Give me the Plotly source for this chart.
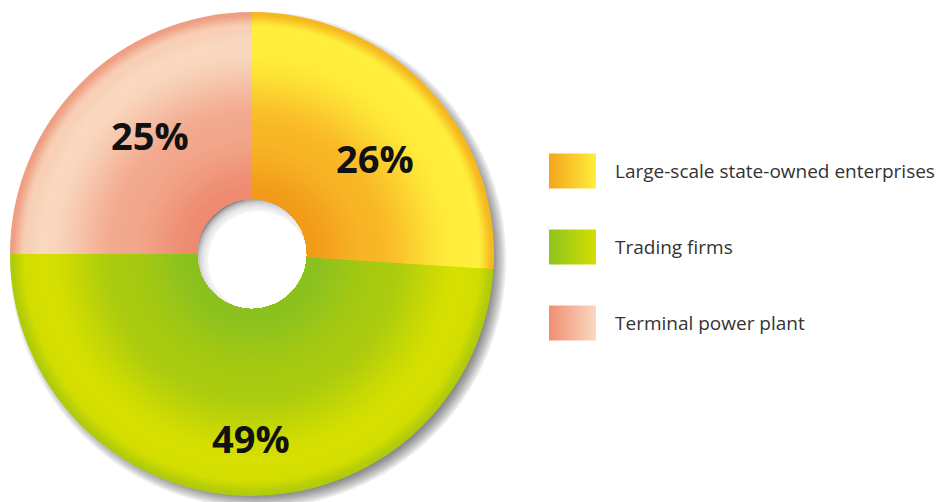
import plotly.graph_objects as go
import math

# ---- data ----
categories = ["Large-scale state-owned enterprises", "Trading firms", "Terminal power plant"]
shares = [26, 49, 25]
label_texts = ["26%", "49%", "25%"]

# ---- styling ----
W, H = 941, 502
CX, CY = 252, 254          # pie centre (px)
R_OUT, R_HOLE = 242, 55    # outer / hole radius (px)
N_RINGS = 100

# radial colour stops per slice: (t, hex) with t=0 at hole, t=1 at rim
grad_stops = [
    [(0.0, "#F29A1A"), (0.35, "#F8B626"), (0.80, "#FFEC3A"), (0.92, "#FFEE3C"), (1.0, "#F6B820")],
    [(0.0, "#8AC11F"), (0.40, "#A8CA10"), (0.83, "#D6DF00"), (0.92, "#D2DD00"), (1.0, "#B0CB0C")],
    [(0.0, "#EE8A70"), (0.40, "#F2A88C"), (0.83, "#F9D8BF"), (0.92, "#F7D0B6"), (1.0, "#EF9E82")],
]
legend_grad = [("#F5A41E", "#FFEE3B"), ("#8DC31F", "#D5DF00"), ("#EF8E73", "#F9D9C0")]
label_r = [156, 184, 157]
label_dang = [5.2, -1.5, 4.4]   # degrees nudge from slice mid angle


def hex2rgb(h):
    h = h.lstrip("#")
    return tuple(int(h[i:i + 2], 16) for i in (0, 2, 4))


def interp(stops, t):
    for (t0, c0), (t1, c1) in zip(stops[:-1], stops[1:]):
        if t <= t1:
            f = 0 if t1 == t0 else (t - t0) / (t1 - t0)
            f = f * f * (3 - 2 * f)  # smoothstep
            a, b = hex2rgb(c0), hex2rgb(c1)
            return "rgb(%d,%d,%d)" % tuple(round(a[i] + (b[i] - a[i]) * f) for i in range(3))
    return stops[-1][1]


def dom(cx, cy, r):
    return dict(x=[max(0, (cx - r) / W), min(1, (cx + r) / W)],
                y=[max(0, 1 - (cy + r) / H), min(1, 1 - (cy - r) / H)])


def circ(cx, cy, r, color):
    return dict(type="circle", xref="paper", yref="paper", layer="below",
                x0=(cx - r) / W, x1=(cx + r) / W, y0=1 - (cy + r) / H, y1=1 - (cy - r) / H,
                fillcolor=color, line=dict(width=0))


fig = go.Figure()

# concentric rings, from the outside in, to build a radial gradient
for k in range(N_RINGS):
    r = R_OUT - k * (R_OUT - R_HOLE) / N_RINGS
    t = (r - R_HOLE) / (R_OUT - R_HOLE)
    cols = [interp(s, t) for s in grad_stops]
    fig.add_trace(go.Pie(
        labels=categories, values=shares, sort=False, direction="clockwise", rotation=0,
        hole=R_HOLE / r, domain=dom(CX, CY, r),
        marker=dict(colors=cols, line=dict(width=0)),
        textinfo="none", hoverinfo="skip", showlegend=False,
    ))

# legend swatches (horizontal gradient)
for i, (c0, c1) in enumerate(legend_grad):
    yc = 171 + 76 * i
    x0, x1, y0, y1 = 549, 596, yc - 17.5, yc + 17.5
    fig.add_trace(go.Scatter(
        x=[x0, x1, x1, x0, x0], y=[y0, y0, y1, y1, y0], mode="lines",
        line=dict(width=0), fill="toself",
        fillgradient=dict(type="horizontal", colorscale=[[0, c0], [1, c1]]),
        hoverinfo="skip", showlegend=False,
    ))

annotations = []
# percentage labels, placed along each slice's mid angle
cum = 0
total = sum(shares)
for i, v in enumerate(shares):
    mid = (cum + v / 2) / total * 2 * math.pi + math.radians(label_dang[i])
    cum += v
    px = CX + label_r[i] * math.sin(mid)
    py = CY - label_r[i] * math.cos(mid)
    annotations.append(dict(
        x=px / W, y=1 - py / H, xref="paper", yref="paper", text=label_texts[i], showarrow=False,
        font=dict(family="Open Sans", size=38, color="#111111", weight="bold"),
        xanchor="center", yanchor="middle",
    ))
for i, c in enumerate(categories):
    yc = 171 + 76 * i
    annotations.append(dict(
        x=613 / W, y=1 - yc / H, xref="paper", yref="paper", text=c, showarrow=False,
        font=dict(family="Open Sans", size=19, color="#333333"),
        xanchor="left", yanchor="middle",
    ))

shapes = []
# outer drop shadow
SX, SY = CX + 6, CY + 6
for dr in range(6, -8, -2):
    shapes.append(circ(SX, SY, R_OUT + dr, "rgba(0,0,0,0.08)"))
# inner shadow inside the hole
shapes.append(circ(CX, CY, R_HOLE + 1, "#888888"))
HX, HY = CX + 6, CY + 7
for rr in (62, 60, 58, 56, 54, 52):
    shapes.append(circ(HX, HY, rr, "rgba(255,255,255,0.32)"))
shapes.append(circ(HX, HY, 50, "#ffffff"))

fig.update_layout(
    width=W, height=H, margin=dict(l=0, r=0, t=0, b=0),
    paper_bgcolor="white", plot_bgcolor="rgba(0,0,0,0)",
    xaxis=dict(range=[0, W], visible=False, domain=[0, 1], fixedrange=True),
    yaxis=dict(range=[H, 0], visible=False, domain=[0, 1], fixedrange=True),
    shapes=shapes, annotations=annotations, showlegend=False,
)

fig.write_html("out.html", config={"displayModeBar": False},
               post_script="document.body.style.margin='0';")
